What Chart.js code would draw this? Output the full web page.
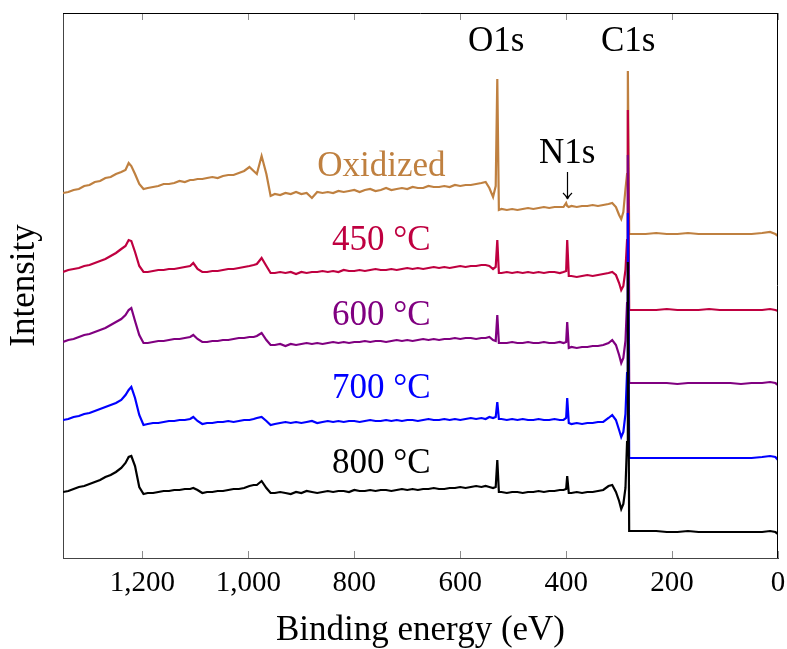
<!DOCTYPE html>
<html>
<head>
<meta charset="utf-8">
<title>XPS survey spectra</title>
<script src="https://cdn.jsdelivr.net/npm/chart.js@4.4.1/dist/chart.umd.min.js"></script>
<style>
  html, body { margin: 0; padding: 0; background: #fff; }
  #xps { display: block; }
</style>
</head>
<body>
<canvas id="xps" width="787" height="649"></canvas>
<script>
// binding energy grid (eV), high to low
const energies = [
  1350, 1340, 1330, 1320, 1310, 1300, 1290, 1280, 1270, 1260, 1250, 1240,
  1232, 1226, 1221, 1214, 1206, 1198,
  1190, 1180, 1170, 1160, 1150, 1140, 1130, 1120, 1110,
  1104, 1096, 1087,
  1078, 1068, 1058, 1048, 1038, 1028, 1018, 1008,
  998, 990, 984, 975, 966, 958,
  950, 940, 930, 920, 910, 900, 890, 880, 870, 860,
  850, 840, 830, 820, 810, 800, 790, 780, 770, 760,
  750, 740, 730, 720, 710, 700, 690, 680, 670, 660,
  650, 640, 630, 620, 610, 600, 590, 580, 570, 560,
  552, 545, 538, 533, 530, 527, 522,
  512, 502, 492, 482, 472, 462, 452, 442, 432, 422, 412,
  405, 400, 398, 395, 390,
  380, 370, 360, 350, 340, 330, 320,
  313, 306, 300, 296, 292, 288, 285, 283.5, 281, 279,
  270, 250, 230, 210, 190, 170, 150, 130, 110, 90, 70, 50, 30, 15, 5, 0
];

// intensities (a.u.), each relative to its own flat low-energy background
const oxidized = [
  41, 42, 44, 45, 48, 49, 52, 53, 56, 57, 60, 62,
  64, 71, 68, 60, 50, 45,
  46, 47, 48, 50, 50, 51, 53, 52, 54,
  54, 55, 55,
  56, 57, 56, 58, 59, 59, 61, 63,
  67, 63, 60, 78, 60, 38,
  40, 39, 41, 40, 42, 40, 41, 36, 42, 41,
  42, 41, 43, 42, 43, 44, 42, 44, 45, 43,
  44, 46, 44, 45, 46, 45, 47, 46, 46, 48,
  47, 47, 48, 47, 49, 48, 49, 49, 50, 51,
  52, 46, 37, 48, 155, 24, 25,
  24, 25, 24, 25, 26, 25, 26, 27, 26, 27, 27,
  27, 31, 28, 27, 28,
  27, 28, 28, 29, 28, 29, 30,
  31, 27, 19, 15, 22, 45, 60, 163, 0, 0,
  0, 0, 1, 0, 0, 1, 0, 0, 0, 0, 0, 0, 1, 2, 0, -2
];
const t450 = [
  38, 40, 41, 42, 44, 45, 47, 49, 51, 54, 57, 61,
  64, 70, 69, 58, 44, 38,
  38, 39, 40, 40, 41, 41, 42, 43, 44,
  47, 41, 38,
  38, 39, 39, 40, 41, 41, 42, 43,
  44, 45, 46, 52, 44, 37,
  37, 38, 37, 38, 36, 38, 37, 38, 38, 39,
  38, 39, 38, 40, 39, 39, 40, 39, 40, 41,
  40, 40, 41, 40, 41, 42, 41, 42, 41, 42,
  43, 42, 43, 42, 43, 44, 43, 44, 44, 45,
  45, 44, 41, 43, 70, 37, 37,
  38, 37, 38, 37, 38, 37, 38, 37, 38, 38, 37,
  38, 39, 70, 34, 34,
  33, 34, 35, 34, 35, 36, 37,
  38, 35, 27, 20, 24, 40, 70, 200, 0, 0,
  0, 0, 0, 1, 0, 0, 0, 1, 0, 0, 0, 0, 0, 1, 0, -1
];
const t600 = [
  41, 43, 44, 46, 48, 49, 51, 53, 55, 58, 61, 64,
  68, 73, 75, 62, 48, 40,
  40, 41, 42, 42, 43, 44, 44, 45, 46,
  48, 44, 41,
  41, 42, 42, 43, 43, 44, 45, 45,
  46, 46, 47, 50, 43, 38,
  38, 39, 37, 39, 38, 39, 40, 39, 40, 39,
  40, 41, 40, 41, 40, 41, 41, 42, 41, 42,
  42, 41, 42, 43, 42, 43, 42, 43, 44, 43,
  44, 43, 44, 44, 45, 44, 45, 45, 44, 45,
  45, 46, 43, 42, 68, 40, 40,
  40, 41, 40, 40, 41, 40, 40, 41, 40, 40, 41,
  40, 41, 61, 35, 36,
  35, 36, 36, 37, 37, 38, 40,
  43, 38, 28, 20, 25, 42, 80, 228, 0, 0,
  0, 0, 0, 0, -1, 0, 0, 0, 0, 0, -1, 0, 0, 1, 0, -2
];
const t700 = [
  38, 39, 41, 42, 44, 45, 47, 49, 51, 53, 55, 58,
  63, 68, 71, 60, 43, 33,
  34, 35, 35, 36, 37, 37, 38, 38, 39,
  41, 37, 34,
  35, 35, 36, 36, 37, 36, 37, 38,
  38, 39, 40, 41, 37, 33,
  34, 35, 36, 35, 36, 35, 36, 37, 35, 36,
  37, 36, 37, 36, 37, 37, 36, 37, 38, 37,
  37, 38, 37, 38, 37, 38, 38, 37, 38, 39,
  38, 38, 39, 38, 39, 38, 39, 40, 39, 40,
  39, 41, 40, 41, 56, 39, 39,
  38, 39, 38, 39, 38, 38, 39, 38, 38, 39, 38,
  38, 40, 60, 35, 34,
  35, 34, 35, 35, 36, 36, 40,
  43, 38, 28, 21, 26, 44, 85, 245, 0, 0,
  0, 0, 0, 0, 0, 0, 0, 0, 0, 0, 0, 0, 1, 2, 1, -2
];
const t800 = [
  40, 41, 43, 45, 46, 48, 50, 52, 55, 57, 60, 64,
  69, 75, 76, 66, 45, 38,
  39, 39, 40, 41, 41, 42, 42, 43, 43,
  44, 42, 39,
  40, 40, 41, 41, 42, 43, 43, 44,
  46, 47, 47, 51, 44, 39,
  39, 40, 39, 38, 40, 39, 41, 40, 39, 40,
  41, 40, 41, 41, 40, 42, 41, 41, 42, 41,
  42, 42, 41, 42, 43, 42, 43, 42, 43, 43,
  44, 43, 43, 44, 44, 45, 44, 45, 46, 45,
  46, 45, 44, 45, 72, 40, 40,
  39, 40, 40, 39, 40, 40, 41, 40, 41, 41, 42,
  42, 43, 56, 39, 39,
  40, 39, 40, 40, 41, 42, 46,
  47, 40, 31, 23, 28, 44, 90, 270, 1, 1,
  1, 1, 1, 0, 0, 1, 0, 0, 0, 0, 0, 0, 0, 1, 0, -2
];

const seriesNames = ['Oxidized', '450 °C', '600 °C', '700 °C', '800 °C'];
const seriesValues = [oxidized, t450, t600, t700, t800];
const offsets = [324, 248, 175, 100, 26];
const colors = ['rgb(191,128,64)', 'rgb(191,0,64)', 'rgb(128,0,128)', 'rgb(0,0,255)', 'rgb(0,0,0)'];

const xTicks = [1200, 1000, 800, 600, 400, 200, 0];

// where the text annotations sit, in data coordinates
const seriesLabelPos = [
  { x: 749, y: 382 },
  { x: 749, y: 308 },
  { x: 749, y: 233 },
  { x: 749, y: 160 },
  { x: 749, y: 85 }
];
const peakLabels = [
  { text: 'O1s', x: 532, y: 507 },
  { text: 'C1s', x: 283, y: 507 },
  { text: 'N1s', x: 398, y: 395 }
];
const n1sArrow = { x: 398, from: 386, to: 359 };

const SERIF = '"Liberation Serif", "Times New Roman", serif';

const datasets = seriesNames.map((name, s) => ({
  label: name,
  data: energies.map((e, i) => ({ x: e, y: seriesValues[s][i] + offsets[s] })),
  borderColor: colors[s],
  borderWidth: 2.2,
  pointRadius: 0,
  tension: 0,
  fill: false,
  order: seriesNames.length - 1 - s // 800 °C ends up on top
}));

const frameAndLabels = {
  id: 'frameAndLabels',
  afterDatasetsDraw(chart) {
    const { ctx, chartArea: a, scales: { x, y } } = chart;
    ctx.save();

    // inward tick marks, top and bottom
    ctx.strokeStyle = '#8c8c8c';
    ctx.lineWidth = 1;
    ctx.beginPath();
    xTicks.forEach(v => {
      const px = Math.round(x.getPixelForValue(v)) + 0.5;
      ctx.moveTo(px, a.bottom); ctx.lineTo(px, a.bottom - 7);
      ctx.moveTo(px, a.top); ctx.lineTo(px, a.top + 7);
    });
    ctx.stroke();

    // top and right edges of the box
    ctx.strokeStyle = '#000';
    ctx.beginPath();
    ctx.moveTo(a.left, a.top + 0.5); ctx.lineTo(a.right, a.top + 0.5);
    ctx.moveTo(a.right - 0.5, a.top); ctx.lineTo(a.right - 0.5, a.bottom);
    ctx.stroke();

    ctx.textAlign = 'center';
    ctx.textBaseline = 'alphabetic';
    ctx.font = '35px ' + SERIF;
    seriesLabelPos.forEach((p, s) => {
      ctx.fillStyle = colors[s];
      ctx.fillText(seriesNames[s], x.getPixelForValue(p.x), y.getPixelForValue(p.y));
    });
    ctx.fillStyle = '#000';
    peakLabels.forEach(p => {
      ctx.fillText(p.text, x.getPixelForValue(p.x), y.getPixelForValue(p.y));
    });

    // arrow pointing at the weak N1s feature
    const ax = Math.round(x.getPixelForValue(n1sArrow.x)) + 0.5;
    const y0 = y.getPixelForValue(n1sArrow.from);
    const y1 = y.getPixelForValue(n1sArrow.to);
    ctx.strokeStyle = '#000';
    ctx.lineWidth = 1.2;
    ctx.beginPath();
    ctx.moveTo(ax, y0); ctx.lineTo(ax, y1);
    ctx.moveTo(ax - 4.5, y1 - 6); ctx.quadraticCurveTo(ax - 1, y1 - 3, ax, y1);
    ctx.moveTo(ax + 4.5, y1 - 6); ctx.quadraticCurveTo(ax + 1, y1 - 3, ax, y1);
    ctx.stroke();
    ctx.restore();
  }
};

new Chart(document.getElementById('xps'), {
  type: 'line',
  data: { datasets },
  options: {
    responsive: false,
    animation: false,
    devicePixelRatio: 1,
    layout: { padding: { top: 13, right: 9, left: 0, bottom: 0 } },
    plugins: { legend: { display: false }, tooltip: { enabled: false } },
    scales: {
      x: {
        type: 'linear',
        reverse: true,
        min: 0,
        max: 1350,
        afterBuildTicks: scale => { scale.ticks = xTicks.map(v => ({ value: v })); },
        afterFit: scale => {
          scale.height = 91;
          scale.paddingLeft = 0;
          scale.paddingRight = 0;
        },
        grid: { display: false, drawTicks: false },
        border: { display: true, color: '#444', width: 1 },
        ticks: {
          color: '#000',
          padding: 8,
          maxRotation: 0,
          font: { family: SERIF, size: 29 },
          callback: v => v.toLocaleString('en-US')
        },
        title: {
          display: true,
          text: 'Binding energy (eV)',
          color: '#000',
          font: { family: SERIF, size: 35, lineHeight: 1 },
          padding: { top: 0, bottom: 1 }
        }
      },
      y: {
        type: 'linear',
        min: 0,
        max: 545,
        afterFit: scale => { scale.width = 63; },
        grid: { display: false, drawTicks: false },
        border: { display: true, color: '#444', width: 1 },
        ticks: { display: false },
        title: {
          display: true,
          text: 'Intensity',
          color: '#000',
          font: { family: SERIF, size: 35, lineHeight: 1 },
          padding: { top: 7, bottom: 0 }
        }
      }
    }
  },
  plugins: [frameAndLabels]
});
</script>
</body>
</html>
